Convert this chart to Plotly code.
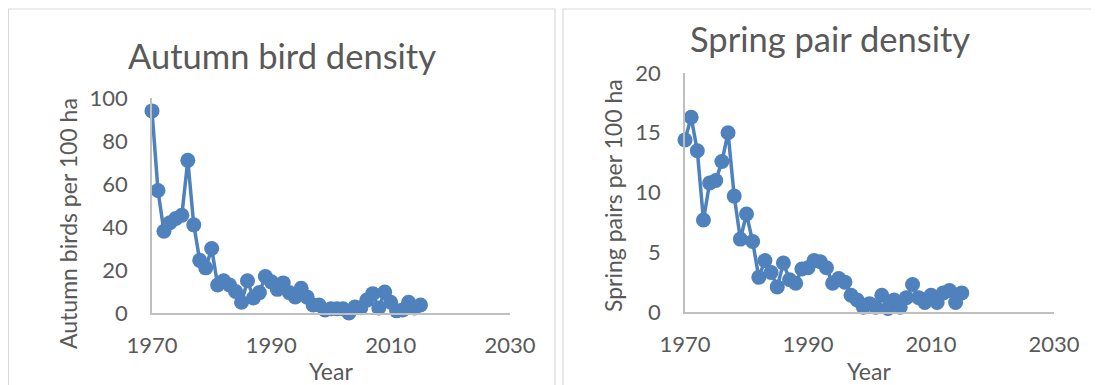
import plotly.graph_objects as go

years = list(range(1970, 2016))
autumn_birds = [94, 57, 38, 42, 44, 45.5, 71, 41, 24.5, 21,
                30, 13, 15, 13, 10, 5, 15, 7, 9.5, 17,
                14.5, 11, 14, 9.5, 7.5, 11.5, 7.4, 3.7, 3.7, 1.4,
                2, 2, 2, 0, 2.8, 2.5, 6, 9, 2.3, 9.8,
                5, 1, 1.4, 5, 2.3, 3.7]
spring_pairs = [14.4, 16.3, 13.5, 7.7, 10.8, 11.0, 12.6, 15.0, 9.7, 6.1,
                8.2, 5.9, 2.9, 4.3, 3.3, 2.1, 4.1, 2.7, 2.4, 3.6,
                3.7, 4.3, 4.2, 3.7, 2.4, 2.8, 2.5, 1.4, 1.0, 0.4,
                0.7, 0.4, 1.4, 0.3, 1.0, 0.4, 1.2, 2.3, 1.2, 0.8,
                1.4, 0.8, 1.6, 1.8, 0.8, 1.6]
x_ticks = [1970, 1990, 2010, 2030]
autumn_ticks = [0, 20, 40, 60, 80, 100]
spring_ticks = [0, 5, 10, 15, 20]

W, H = 1099, 385
OFF = 8  # page body margin
BLUE = "#4F81BD"
TXT = "#595959"
AX = "#BFBFBF"
FONT = "Lato"

def px(x):
    return (x - OFF) / W

def py(y):
    return (H - (y - OFF)) / H

fig = go.Figure()
fig.add_trace(go.Scatter(x=years, y=autumn_birds, mode="lines+markers",
                         line=dict(color=BLUE, width=3.5),
                         marker=dict(color=BLUE, size=15),
                         cliponaxis=False, xaxis="x", yaxis="y", showlegend=False))
fig.add_trace(go.Scatter(x=years, y=spring_pairs, mode="lines+markers",
                         line=dict(color=BLUE, width=3.5),
                         marker=dict(color=BLUE, size=15),
                         cliponaxis=False, xaxis="x2", yaxis="y2", showlegend=False))

axis_common = dict(showgrid=False, zeroline=False, showline=True, linecolor=AX,
                   linewidth=1.5, ticks="", automargin=False,
                   tickfont=dict(family=FONT, size=22, color=TXT))

fig.update_layout(
    width=W, height=H, margin=dict(l=0, r=0, t=0, b=0, pad=0, autoexpand=False),
    autosize=False,
    paper_bgcolor="white", plot_bgcolor="white",
    xaxis=dict(domain=[px(152), px(510)], range=[1970, 2030], tickvals=x_ticks,
               anchor="y", ticklabelstandoff=12, **axis_common),
    yaxis=dict(domain=[py(313), py(98)], range=[0, 100], tickvals=autumn_ticks,
               anchor="x", ticklabelstandoff=18, **axis_common),
    xaxis2=dict(domain=[px(685), px(1054)], range=[1970, 2030], tickvals=x_ticks,
                anchor="y2", ticklabelstandoff=12, **axis_common),
    yaxis2=dict(domain=[py(312), py(73)], range=[0, 20], tickvals=spring_ticks,
                anchor="x2", ticklabelstandoff=18, **axis_common),
)

# panel frames
for x0, x1 in [(8.5, 555), (563, 1115)]:
    fig.add_shape(type="rect", xref="paper", yref="paper",
                  x0=px(x0), x1=px(x1), y0=py(400), y1=py(9),
                  line=dict(color="#D9D9D9", width=1.2), fillcolor="rgba(0,0,0,0)",
                  layer="below")

def ann(text, x, y, size, angle=0):
    fig.add_annotation(text=text, x=px(x), y=py(y), xref="paper", yref="paper",
                       showarrow=False, xanchor="center", yanchor="middle",
                       textangle=angle, font=dict(family=FONT, size=size, color=TXT))

ann("Autumn bird density", 282, 55, 34.5)
ann("Spring pair density", 830, 38, 34.5)
ann("Year", 331, 371, 23)
ann("Year", 869, 371, 23)
ann("Autumn birds per 100 ha", 68, 224, 23, -90)
ann("Spring pairs per 100 ha", 613, 196, 23, -90)

fig.write_html("out.html")
